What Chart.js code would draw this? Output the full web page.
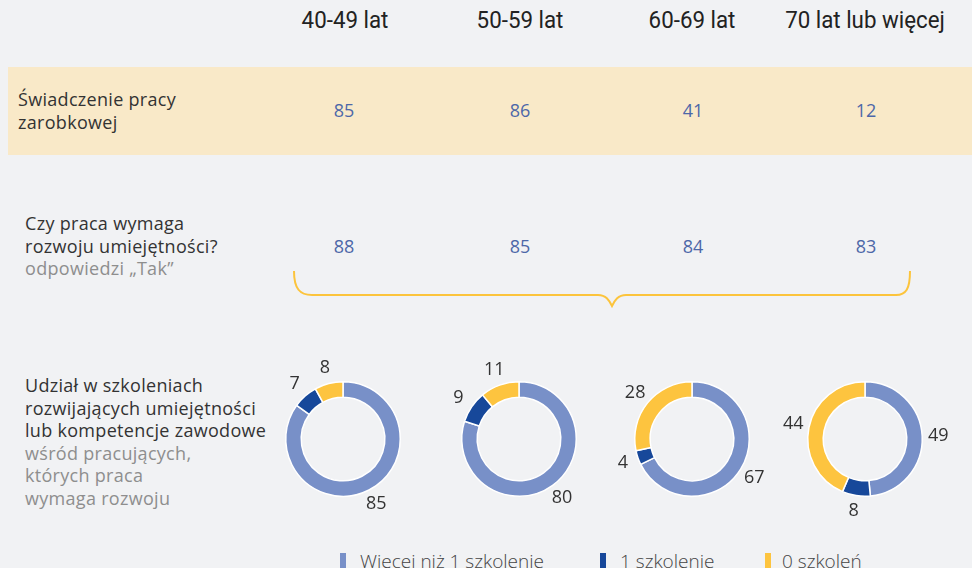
<!DOCTYPE html>
<html>
<head>
<meta charset="utf-8">
<script src="https://cdn.jsdelivr.net/npm/chart.js@4.4.1/dist/chart.umd.min.js"></script>
<style>
  html, body { margin:0; padding:0; }
  body { width:972px; height:568px; overflow:hidden; background:#f1f2f4; position:relative;
         font-family:"Open Sans", "Noto Sans", sans-serif; color:#333; }
  .abs { position:absolute; }
  .hdr { font-family:"Roboto", sans-serif; font-size:24px; color:#222;
         top:5px; width:200px; text-align:center; line-height:30px; transform:scaleX(0.93); }
  .band { left:8px; top:67px; width:964px; height:88px; background:#f9e9c8; }
  .lbl { font-size:18px; line-height:22.5px; color:#333; letter-spacing:0.3px; }
  .lbl .g { color:#8e8e8e; }
  .val { font-size:18px; color:#4d67a8; width:80px; text-align:center; line-height:22px; }
  .leg { top:549px; font-size:19px; line-height:24px; color:#444; font-weight:300; }
  .sw { width:6px; height:17px; top:553px; }
  canvas.d { position:absolute; }
</style>
</head>
<body>
<div class="abs band"></div>
<div class="abs lbl" style="left:18px;top:88px;">Świadczenie pracy<br>zarobkowej</div>
<div class="abs lbl" style="left:25px;top:212px;">Czy praca wymaga<br>rozwoju umiejętności?<br><span class="g">odpowiedzi „Tak”</span></div>
<div class="abs lbl" style="left:25px;top:374px;">Udział w szkoleniach<br>rozwijających umiejętności<br>lub kompetencje zawodowe<br><span class="g">wśród pracujących,<br>których praca<br>wymaga rozwoju</span></div>
<svg class="abs" style="left:0;top:0;" width="972" height="568">
  <path d="M294,271 C294,289 300,295 312,295 L598,295 C606,295 609,300 612,306 C615,300 618,295 626,295 L896,295 C906,295 910,289 910,271"
        fill="none" stroke="#fcc43c" stroke-width="2"/>
</svg>
<div id="root"></div>
<script>
// ---- data ----
const ageGroups = ["40-49 lat", "50-59 lat", "60-69 lat", "70 lat lub więcej"];
const workValues = [85, 86, 41, 12];          // Świadczenie pracy zarobkowej
const skillValues = [88, 85, 84, 83];         // Czy praca wymaga rozwoju umiejętności? (Tak)
const trainingCategories = ["Więcej niż 1 szkolenie", "1 szkolenie", "0 szkoleń"];
const moreThanOne = [85, 80, 67, 49];
const oneTraining = [7, 9, 4, 8];
const noTraining = [8, 11, 28, 44];

// ---- layout / style ----
const colCenters = [344, 520, 693, 866];
const hdrCenters = [345, 520, 692, 865];
const colors = ["#7890c8", "#17489a", "#fdc43f"];
const donutCY = 439;

const root = document.getElementById('root');
ageGroups.forEach((g, i) => {
  const d = document.createElement('div');
  d.className = 'abs hdr'; d.textContent = g;
  d.style.left = (hdrCenters[i] - 100) + 'px';
  root.appendChild(d);
});
function addVals(arr, top) {
  arr.forEach((v, i) => {
    const d = document.createElement('div');
    d.className = 'abs val'; d.textContent = v;
    d.style.left = (colCenters[i] - 40) + 'px'; d.style.top = top + 'px';
    root.appendChild(d);
  });
}
addVals(workValues, 99);
addVals(skillValues, 235);

// legend
const legX = [340, 600, 765];
const legTextX = [360, 620, 782];
trainingCategories.forEach((c, i) => {
  const s = document.createElement('div');
  s.className = 'abs sw'; s.style.left = legX[i] + 'px'; s.style.background = colors[i];
  root.appendChild(s);
  const t = document.createElement('div');
  t.className = 'abs leg'; t.textContent = c; t.style.left = legTextX[i] + 'px';
  root.appendChild(t);
});

const outsideLabels = {
  id: 'outsideLabels',
  afterDatasetsDraw(chart) {
    const ctx = chart.ctx;
    const meta = chart.getDatasetMeta(0);
    const ds = chart.data.datasets[0];
    ctx.save();
    ctx.font = '18px "Open Sans", "Noto Sans", sans-serif';
    ctx.fillStyle = '#333';
    ctx.textAlign = 'center';
    ctx.textBaseline = 'middle';
    meta.data.forEach((arc, i) => {
      const mid = (arc.startAngle + arc.endAngle) / 2;
      const r = arc.outerRadius + 16;
      ctx.fillText(String(ds.data[i]), arc.x + Math.cos(mid) * r, arc.y + Math.sin(mid) * r);
    });
    ctx.restore();
  }
};

const W = 200, H = 180;
ageGroups.forEach((g, i) => {
  const cv = document.createElement('canvas');
  cv.className = 'd'; cv.width = W; cv.height = H;
  cv.style.left = (colCenters[i] - W / 2 - 1) + 'px';
  cv.style.top = (donutCY - H / 2) + 'px';
  cv.style.width = W + 'px'; cv.style.height = H + 'px';
  root.appendChild(cv);
  new Chart(cv, {
    type: 'doughnut',
    data: {
      labels: trainingCategories,
      datasets: [{
        data: [moreThanOne[i], oneTraining[i], noTraining[i]],
        backgroundColor: colors,
        borderColor: '#ffffff',
        borderWidth: 1.5
      }]
    },
    options: {
      responsive: false,
      animation: false,
      cutout: '73%',
      layout: { padding: { left: 42, right: 42, top: 32, bottom: 32 } },
      plugins: { legend: { display: false }, tooltip: { enabled: false } }
    },
    plugins: [outsideLabels]
  });
});
</script>
</body>
</html>
